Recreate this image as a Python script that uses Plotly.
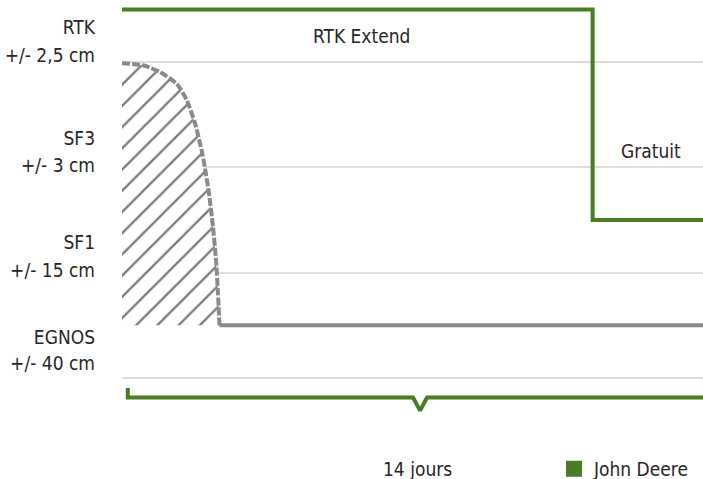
import plotly.graph_objects as go

# ---- data ----
systems = ["RTK", "SF3", "SF1", "EGNOS"]
precisions = ["+/- 2,5 cm", "+/- 3 cm", "+/- 15 cm", "+/- 40 cm"]

# John Deere correction level over time (RTK Extend, then free SF level)
jd_x = [0, 81, 81, 100]
jd_y = [7, 7, 3, 3]

# decay of accuracy once the subscription is lost
decay_x = [0, 3.61, 6.54, 9.41, 11.14, 12.56, 13.72, 14.29, 14.97, 15.66, 16.18, 16.52, 16.78]
decay_y = [5.98, 5.94, 5.81, 5.59, 5.28, 4.84, 4.32, 3.98, 3.51, 2.87, 2.24, 1.61, 1.0]
base_x = [16.78, 100]
base_y = [1.0, 1.0]

# "14 jours" bracket
bracket_x = [1, 1, 50.1, 51.3, 52.5, 100]
bracket_y = [-0.19, -0.37, -0.37, -0.62, -0.37, -0.37]

grid_vals = [0, 2, 4, 6]
label_top_pos = [6.657, 4.549, 2.574, 0.769]
label_bot_pos = [6.135, 4.046, 2.051, 0.275]

GREEN = "#4a7c23"
GRAY = "#8a8a8a"
TEXT = "#262626"
FONT = "DejaVu Sans Condensed, DejaVu Sans, sans-serif"

fig = go.Figure()

# hatched area under decay curve
fig.add_trace(go.Scatter(
    x=decay_x + [decay_x[-1], decay_x[0]],
    y=decay_y + [base_y[0], base_y[0]],
    mode="lines", fill="toself", line=dict(width=0),
    fillpattern=dict(shape="/", fgcolor="#7a7a7a", fgopacity=1, bgcolor="white",
                     size=15, solidity=0.15),
    hoverinfo="skip", showlegend=False,
))
fig.add_trace(go.Scatter(
    x=decay_x, y=decay_y, mode="lines",
    line=dict(color=GRAY, width=4, dash="8px,2px", shape="spline", smoothing=0.6),
    showlegend=False, hoverinfo="skip",
))
fig.add_trace(go.Scatter(
    x=base_x, y=base_y, mode="lines",
    line=dict(color=GRAY, width=4), showlegend=False, hoverinfo="skip",
))
fig.add_trace(go.Scatter(
    x=jd_x, y=jd_y, mode="lines",
    line=dict(color=GREEN, width=4), showlegend=False, hoverinfo="skip",
))
fig.add_trace(go.Scatter(
    x=bracket_x, y=bracket_y, mode="lines",
    line=dict(color=GREEN, width=4), showlegend=False, hoverinfo="skip",
))
# legend entry
fig.add_trace(go.Scatter(
    x=[None], y=[None], mode="markers", name="John Deere",
    marker=dict(symbol="square", size=16, color=GREEN),
))

tickvals = []
ticktext = []
for s, p, t, b in zip(systems, precisions, label_top_pos, label_bot_pos):
    tickvals += [t, b]
    ticktext += [s, p]

fig.update_layout(
    width=703, height=479,
    margin=dict(l=122, r=0, t=0, b=48, autoexpand=False),
    paper_bgcolor="white", plot_bgcolor="white",
    font=dict(family=FONT, size=19, color=TEXT),
    xaxis=dict(range=[0, 100], showgrid=False, zeroline=False, showticklabels=False,
               showline=False, fixedrange=True),
    yaxis=dict(range=[-1.007, 7.18], tickmode="array", tickvals=tickvals, ticktext=ticktext,
               showgrid=False, zeroline=False, showline=False, ticks="",
               ticklabelstandoff=26, fixedrange=True,
               minor=dict(tickmode="array", tickvals=grid_vals, showgrid=True,
                          gridcolor="#dddddd", gridwidth=2, ticks="")),
    showlegend=True,
    legend=dict(x=0.7435, xanchor="left", y=-0.088, yanchor="middle",
                font=dict(family=FONT, size=19, color=TEXT), bgcolor="rgba(0,0,0,0)"),
    annotations=[
        dict(x=41.3, y=6.5, xref="x", yref="y", text="RTK Extend", showarrow=False,
             font=dict(size=19, color=TEXT)),
        dict(x=91.0, y=4.31, xref="x", yref="y", text="Gratuit", showarrow=False,
             font=dict(size=19, color=TEXT)),
        dict(x=50.9, y=-0.088, xref="x", yref="paper", text="14 jours", showarrow=False,
             font=dict(size=19, color=TEXT), yanchor="middle"),
    ],
)

fig.write_html("out.html", config={"displayModeBar": False},
               post_script="document.body.style.margin='0';document.body.style.overflow='hidden';")
